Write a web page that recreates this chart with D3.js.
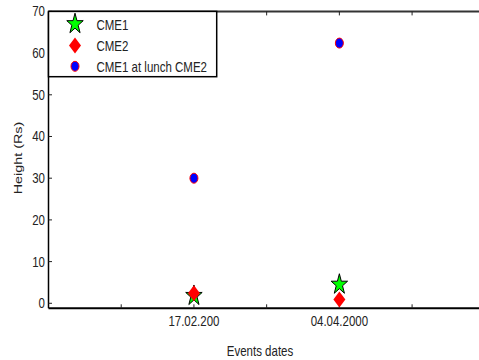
<!DOCTYPE html>
<html><head><meta charset="utf-8">
<script src="https://cdn.jsdelivr.net/npm/d3@7"></script>
<style>
body{margin:0;background:#fff;}
svg{display:block;}
text{font-family:"Liberation Sans",Arial,sans-serif;fill:#222;}
</style></head>
<body>
<svg id="c" width="479" height="360"></svg>
<script>
// ---- data ----
const categories = ["17.02.200", "04.04.2000"];
const catPositions = [1, 2];
const cme1 = [1.8, 4.5];
const cme2 = [2.4, 0.9];
const cme1AtLaunch = [30, 62.4];
const yTicks = [0, 10, 20, 30, 40, 50, 60, 70];
const xTicks = [0.5, 1, 1.5, 2, 2.5];
const seriesNames = ["CME1", "CME2", "CME1 at lunch CME2"];

const svg = d3.select("#c");
const SY = 1.25; // vertical stretch of the original picture
const x = d3.scaleLinear().domain([0, 3]).range([48.5, 484.8]);
const y = d3.scaleLinear().domain([-1.2, 70]).range([308.3, 11.4]);

const diamond = {draw(ctx, size){ const w = 6, h = 6.4; ctx.moveTo(0,-h); ctx.lineTo(w,0); ctx.lineTo(0,h); ctx.lineTo(-w,0); ctx.closePath(); }};
const starPath = d3.symbol().type(d3.symbolStar).size(84)();
const diamondPath = d3.symbol().type(diamond)();
const circlePath = d3.symbol().type(d3.symbolCircle).size(Math.PI*16)();

function drawMarker(g, kind, cx, cy){
  const t = `translate(${cx},${cy}) scale(1,${SY})`;
  if(kind===0) g.append("path").attr("d", starPath).attr("transform", t).attr("fill", "#00ff00").attr("stroke", "#000").attr("stroke-width", 1).attr("vector-effect","non-scaling-stroke");
  else if(kind===1) g.append("path").attr("d", diamondPath).attr("transform", t).attr("fill", "#ff0000");
  else g.append("path").attr("d", circlePath).attr("transform", t).attr("fill", "#0000ff").attr("stroke", "#ff0000").attr("stroke-width", 1).attr("vector-effect","non-scaling-stroke");
}
function txt(s, tx, ty, anchor, rot){
  const t = svg.append("text").text(s).attr("font-size", 11.5).attr("text-anchor", anchor||"middle")
    .attr("dominant-baseline", "central")
    .attr("transform", `translate(${tx},${ty}) scale(1,${SY})` + (rot ? ` rotate(${rot})` : ""));
  return t;
}

// axes lines
const x0 = x(0), yb = y(-1.2), yt = y(70);
svg.append("line").attr("x1", x0).attr("x2", 479).attr("y1", yt).attr("y2", yt).attr("stroke", "#333").attr("stroke-width", 2);
svg.append("line").attr("x1", x0).attr("x2", 479).attr("y1", yb).attr("y2", yb).attr("stroke", "#000").attr("stroke-width", 2);
svg.append("line").attr("x1", x0).attr("x2", x0).attr("y1", yt).attr("y2", yb).attr("stroke", "#000").attr("stroke-width", 1.5);

// y ticks
yTicks.forEach(v => {
  svg.append("line").attr("x1", x0).attr("x2", x0 + 3.5).attr("y1", y(v)).attr("y2", y(v)).attr("stroke", "#222").attr("stroke-width", 1);
  txt(String(v), 45, y(v), "end");
});
// x ticks (bottom pointing up, top pointing down)
xTicks.forEach(v => {
  svg.append("line").attr("x1", x(v)).attr("x2", x(v)).attr("y1", yb).attr("y2", yb - 4).attr("stroke", "#222").attr("stroke-width", 1);
  svg.append("line").attr("x1", x(v)).attr("x2", x(v)).attr("y1", yt).attr("y2", yt + 4).attr("stroke", "#222").attr("stroke-width", 1);
});
categories.forEach((c, i) => txt(c, x(catPositions[i]), 321.5, "middle"));

// axis titles
txt("Events dates", 260, 351.5, "middle");
txt("Height (Rs)", 18.5, 158, "middle", -90);

// marks
const gm = svg.append("g");
catPositions.forEach((p, i) => {
  drawMarker(gm, 2, x(p), y(cme1AtLaunch[i]));
});
catPositions.forEach((p, i) => drawMarker(gm, 0, x(p), y(cme1[i])));
catPositions.forEach((p, i) => drawMarker(gm, 1, x(p), y(cme2[i])));

// legend
const lg = svg.append("g");
lg.append("rect").attr("x", x0).attr("y", yt).attr("width", 216.7 - x0).attr("height", 76.7 - yt)
  .attr("fill", "#fff").attr("stroke", "#000").attr("stroke-width", 1.5);
const legY = [24, 45.5, 66.3];
seriesNames.forEach((n, i) => {
  drawMarker(lg, i, 75, legY[i]);
  txt(n, 96.5, legY[i] + 0.7, "start");
});
</script>
</body></html>
